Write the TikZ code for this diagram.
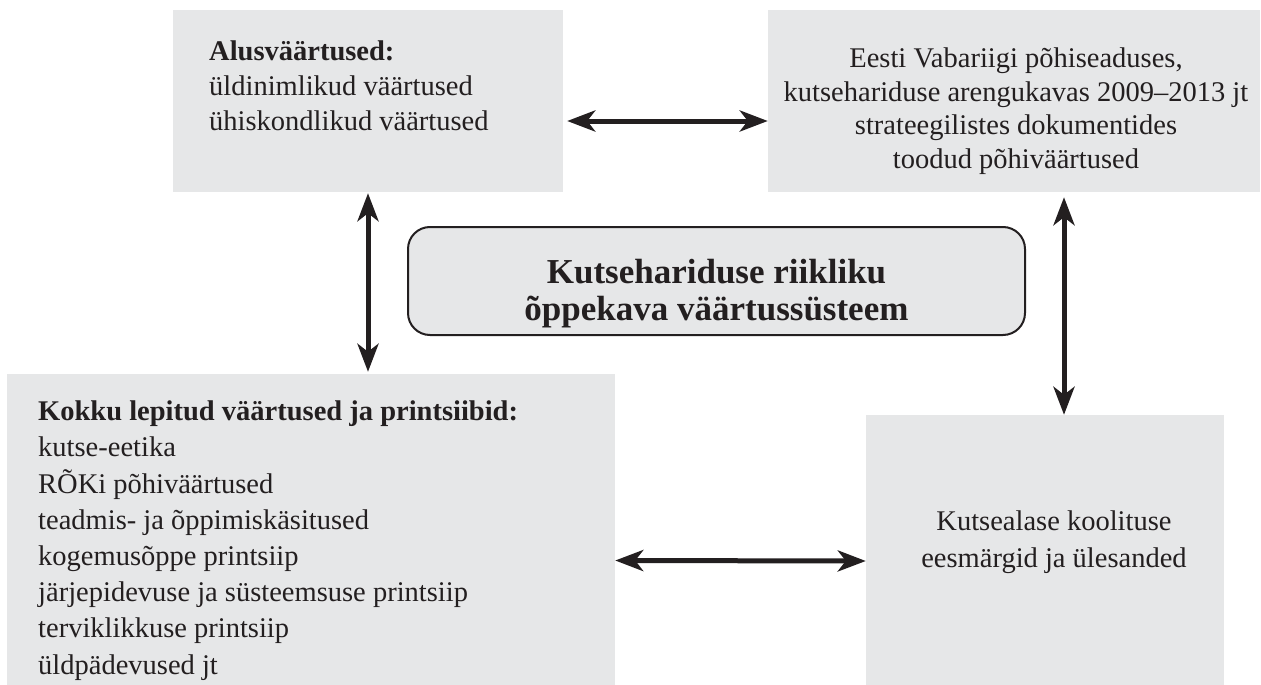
\documentclass[tikz,border=0pt]{standalone}
\usepackage{fontspec}
\setmainfont{Liberation Serif}
\usetikzlibrary{arrows.meta,calc}
\definecolor{boxgray}{HTML}{E6E7E8}
\definecolor{ink}{HTML}{231F20}
\begin{document}
\begin{tikzpicture}[x=1pt,y=-1pt,
  panel/.style={rectangle, fill=boxgray, draw=none, inner sep=0pt},
  body/.style={inner sep=0pt, text=ink, font=\fontsize{28.5}{35}\selectfont},
  tip/.tip={Stealth[length=28pt,width=21pt,inset=8pt]},
  link/.style={draw=ink, line width=5pt, tip-tip}]
\useasboundingbox (0,0) rectangle (1261,685);

% grey panels
\node[panel, minimum width=390pt, minimum height=182pt] (alus) at (368,101) {};
\node[panel, minimum width=492pt, minimum height=182pt] (vab) at (1014,101) {};
\node[panel, minimum width=608pt, minimum height=311pt] (bl) at (311,529.5) {};
\node[panel, minimum width=358pt, minimum height=270pt] (br) at (1045,550) {};
\node[panel, draw=ink, line width=2pt, rounded corners=22pt,
      minimum width=617pt, minimum height=108pt] (core) at (716.5,281) {};

% texts (the base anchor sits on the last line)
\node[body, anchor=base west, align=left] (alustxt) at (209,130)
  {\textbf{Alusväärtused:}\\üldinimlikud väärtused\\ühiskondlikud väärtused};
\node[body, anchor=base, align=center, font=\fontsize{28.5}{33.5}\selectfont] (vabtxt) at (1016,168)
  {Eesti Vabariigi põhiseaduses,\\kutsehariduse arengukavas 2009–2013 jt\\strateegilistes dokumentides\\toodud põhiväärtused};
\node[body, anchor=base, align=center, font=\bfseries\fontsize{35}{37}\selectfont] (coretxt) at (716.5,320)
  {Kutsehariduse riikliku\\õppekava väärtussüsteem};
\node[body, anchor=base west, align=left, font=\fontsize{28.5}{36.2}\selectfont] (bltxt) at (38,674)
  {\textbf{Kokku lepitud väärtused ja printsiibid:}\\kutse-eetika\\RÕKi põhiväärtused\\teadmis- ja õppimiskäsitused\\kogemusõppe printsiip\\järjepidevuse ja süsteemsuse printsiip\\terviklikkuse printsiip\\üldpädevused jt};
\node[body, anchor=base, align=center, font=\fontsize{28.5}{37}\selectfont] (brtxt) at (1054,567)
  {Kutsealase koolituse\\eesmärgid ja ülesanded};

% double-headed connectors
\coordinate (rv) at ($(vab.south)+(50,0)$);
\draw[link] ($(alus.east)+(4,20)$) -- ($(vab.west)+(0,20)$);
\draw[link] ($(alus.south)+(0,1)$) -- ($(alus.south |- bl.north)+(0,-2)$);
\draw[link] ($(rv)+(0,5)$) -- (rv |- br.north);
\draw[link] ($(bl.east)+(0,31)$) -- ($(br.west)+(0,11)$);
\end{tikzpicture}
\end{document}
